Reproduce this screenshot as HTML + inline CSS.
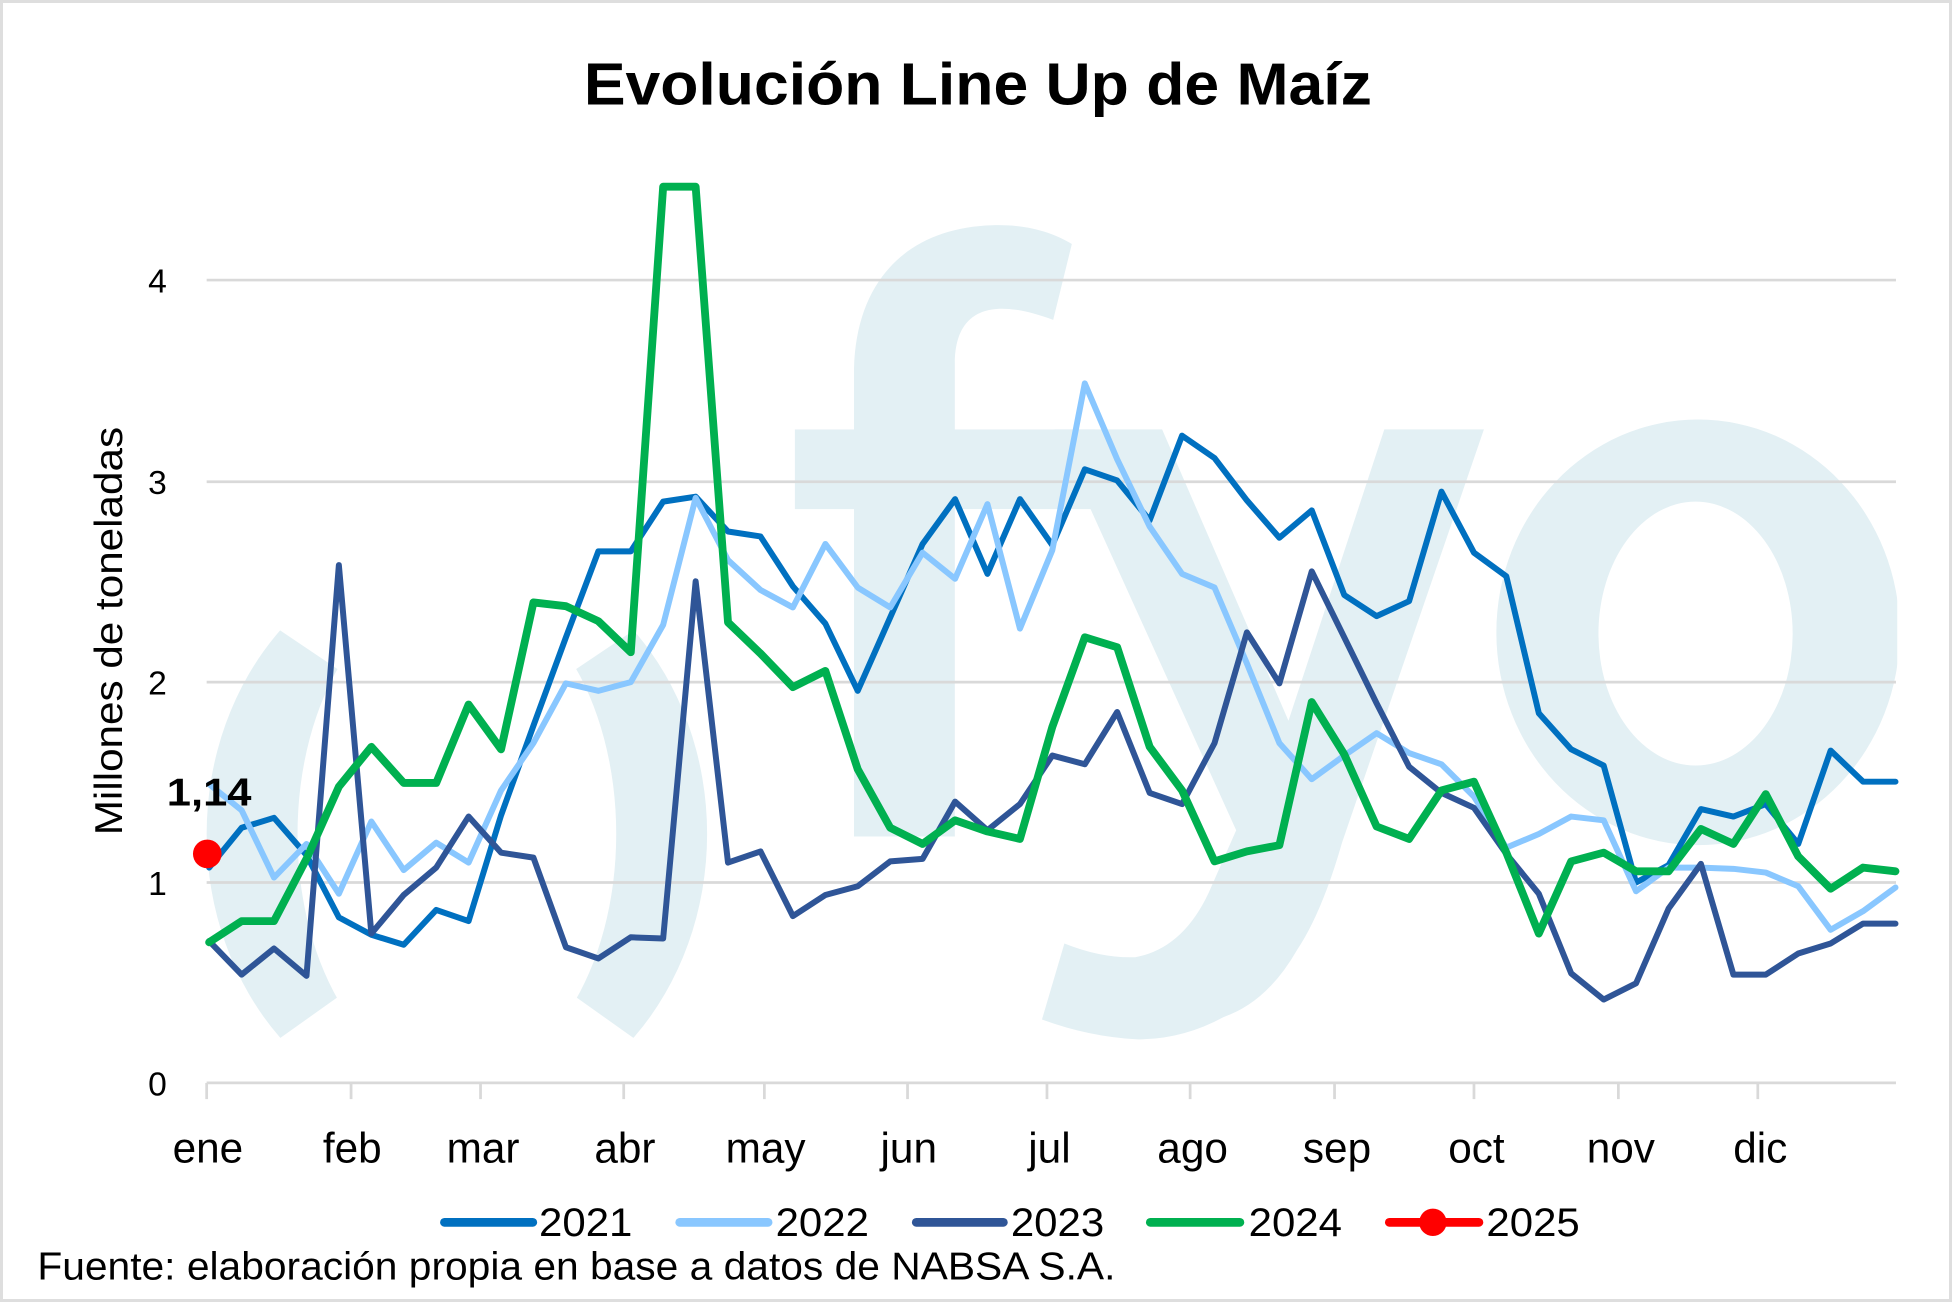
<!DOCTYPE html>
<html>
<head>
<meta charset="utf-8">
<style>
  html,body{margin:0;padding:0;background:#fff;}
  svg{display:block;}
  text{font-family:"Liberation Sans", Arial, sans-serif; fill:#000;}
</style>
</head>
<body>
<svg width="1952" height="1302" viewBox="0 0 1568 1046" preserveAspectRatio="none" xmlns="http://www.w3.org/2000/svg">
  <defs>
    <clipPath id="plotclip"><rect x="160" y="120" width="1364" height="760"/></clipPath>
    <clipPath id="bowtie"><polygon points="367,602 0,355 0,994 367,733 734,994 734,355"/></clipPath>
  </defs>
  <!-- background + border -->
  <rect x="1.2" y="1.2" width="1565.6" height="1043.6" fill="#ffffff" stroke="#dedede" stroke-width="2.4"/>

  <!-- watermark -->
  <g fill="#e3f0f4" clip-path="url(#plotclip)">
    <path clip-path="url(#bowtie)" fill-rule="evenodd" d="M166,670 A201,231 0 1,0 568,670 A201,231 0 1,0 166,670 Z M239,670 A128,200 0 1,1 495,670 A128,200 0 1,1 239,670 Z"/>
    <path d="M686,672 L686,296 C688,222 732,183 797,181 C825,180 846,187 861,196 L846,257 C830,251 816,248 805,248 C781,248 767,262 767,292 L767,672 Z"/>
    <rect x="638.5" y="345" width="241" height="64"/>
    <path d="M847,345 L933.5,345 L1035,579 L1112,345 L1192,345 L1078,677 Q1062,733 1042,763 Q1018,805 983,817 Q950,835 914,835 Q875,833 837,819 L855,758 Q885,770 912,769 Q950,762 971,717 L993,667 Z"/>
    <path fill-rule="evenodd" d="M1202,508 A162,171 0 1,0 1526,508 A162,171 0 1,0 1202,508 Z M1284,509 A78,106 0 1,1 1440,509 A78,106 0 1,1 1284,509 Z"/>
  </g>

  <!-- gridlines -->
  <g stroke="#d9d9d9" stroke-width="2.2">
    <line x1="166" y1="225" x2="1523" y2="225"/>
    <line x1="166" y1="387" x2="1523" y2="387"/>
    <line x1="166" y1="548" x2="1523" y2="548"/>
    <line x1="166" y1="709" x2="1523" y2="709"/>
    <line x1="166" y1="870" x2="1523" y2="870"/>
    <!-- ticks -->
    <line x1="166" y1="870" x2="166" y2="883"/>
    <line x1="282" y1="870" x2="282" y2="883"/>
    <line x1="386" y1="870" x2="386" y2="883"/>
    <line x1="501" y1="870" x2="501" y2="883"/>
    <line x1="614" y1="870" x2="614" y2="883"/>
    <line x1="729" y1="870" x2="729" y2="883"/>
    <line x1="841" y1="870" x2="841" y2="883"/>
    <line x1="956" y1="870" x2="956" y2="883"/>
    <line x1="1072" y1="870" x2="1072" y2="883"/>
    <line x1="1184" y1="870" x2="1184" y2="883"/>
    <line x1="1300" y1="870" x2="1300" y2="883"/>
    <line x1="1412" y1="870" x2="1412" y2="883"/>
  </g>

  <!-- y tick labels -->
  <g font-size="27" text-anchor="end">
    <text x="134" y="235">4</text>
    <text x="134" y="397">3</text>
    <text x="134" y="558">2</text>
    <text x="134" y="719">1</text>
    <text x="134" y="880">0</text>
  </g>

  <!-- y axis title -->
  <text transform="translate(98,671) rotate(-90)" font-size="31" textLength="328" lengthAdjust="spacingAndGlyphs">Millones de toneladas</text>

  <!-- x labels -->
  <g font-size="34" text-anchor="middle">
    <text x="167" y="934">ene</text>
    <text x="283" y="934">feb</text>
    <text x="388" y="934">mar</text>
    <text x="502" y="934">abr</text>
    <text x="615" y="934">may</text>
    <text x="730" y="934">jun</text>
    <text x="843" y="934">jul</text>
    <text x="958" y="934">ago</text>
    <text x="1074" y="934">sep</text>
    <text x="1186" y="934">oct</text>
    <text x="1302" y="934">nov</text>
    <text x="1414" y="934">dic</text>
  </g>

  <!-- series -->
  <g fill="none" stroke-linejoin="round" stroke-linecap="round">
    <polyline stroke="#0070c0" stroke-width="4.8" points="168,697 194.1,665 220.1,657 246.2,687 272.2,737 298.3,751 324.3,759 350.4,731 376.4,740 402.5,655 428.5,583 454.6,512 480.6,443 506.7,443 532.7,403 558.8,399 584.8,427 610.9,431 636.9,471 663,501 689,555 715.1,496 741.1,437 767.2,401 793.2,461 819.3,401 845.3,438 871.4,377 897.4,386 923.5,418 949.5,350 975.6,368 1001.6,402 1027.7,432 1053.7,410 1079.8,478 1105.8,495 1131.9,483 1157.9,395 1184,444 1210,463 1236.1,573 1262.1,602 1288.2,615 1314.2,709 1340.3,695 1366.3,650 1392.4,656 1418.4,646 1444.5,678 1470.5,603 1496.6,628 1522.6,628"/>
    <polyline stroke="#89c7ff" stroke-width="4.8" points="168,630 194.1,651 220.1,705 246.2,678 272.2,718 298.3,660 324.3,699 350.4,677 376.4,693 402.5,635 428.5,597 454.6,549 480.6,555 506.7,548 532.7,502 558.8,400 584.8,450 610.9,474 636.9,488 663,437 689,472 715.1,488 741.1,444 767.2,465 793.2,405 819.3,505 845.3,442 871.4,308 897.4,369 923.5,423 949.5,461 975.6,472 1001.6,533 1027.7,597 1053.7,626 1079.8,607 1105.8,589 1131.9,605 1157.9,614 1184,640 1210,681 1236.1,670 1262.1,656 1288.2,659 1314.2,716 1340.3,697 1366.3,697 1392.4,698 1418.4,701 1444.5,712 1470.5,747 1496.6,732 1522.6,713"/>
    <polyline stroke="#2f5597" stroke-width="4.8" points="168,756 194.1,783 220.1,762 246.2,784 272.2,454 298.3,750 324.3,719 350.4,697 376.4,656 402.5,685 428.5,689 454.6,761 480.6,770 506.7,753 532.7,754 558.8,467 584.8,693 610.9,684 636.9,736 663,719 689,712 715.1,692 741.1,690 767.2,644 793.2,667 819.3,646 845.3,607 871.4,614 897.4,572 923.5,637 949.5,646 975.6,597 1001.6,508 1027.7,549 1053.7,459 1079.8,512 1105.8,565 1131.9,616 1157.9,637 1184,649 1210,686 1236.1,718 1262.1,782 1288.2,803 1314.2,790 1340.3,730 1366.3,694 1392.4,783 1418.4,783 1444.5,766 1470.5,758 1496.6,742 1522.6,742"/>
    <polyline stroke="#00b050" stroke-width="6.3" points="168,757 194.1,740 220.1,740 246.2,690 272.2,632 298.3,600 324.3,629 350.4,629 376.4,566 402.5,602 428.5,484 454.6,487 480.6,499 506.7,524 532.7,150 558.8,150 584.8,500 610.9,525 636.9,552 663,539 689,618 715.1,665 741.1,678 767.2,659 793.2,668 819.3,674 845.3,584 871.4,512 897.4,520 923.5,600 949.5,635 975.6,692 1001.6,684 1027.7,679 1053.7,564 1079.8,606 1105.8,664 1131.9,674 1157.9,635 1184,628 1210,685 1236.1,750 1262.1,692 1288.2,685 1314.2,700 1340.3,700 1366.3,666 1392.4,678 1418.4,638 1444.5,688 1470.5,714 1496.6,697 1522.6,700"/>
  </g>

  <!-- 2025 point -->
  <circle cx="166.5" cy="686" r="11.5" fill="#ff0000"/>
  <text x="134" y="647" font-size="31" font-weight="bold" textLength="68" lengthAdjust="spacingAndGlyphs">1,14</text>

  <!-- title -->
  <text x="469" y="84" font-size="48" font-weight="bold" textLength="633" lengthAdjust="spacingAndGlyphs">Evolución Line Up de Maíz</text>

  <!-- legend -->
  <g stroke-width="7" stroke-linecap="round">
    <line x1="357" y1="982" x2="428" y2="982" stroke="#0070c0"/>
    <line x1="546" y1="982" x2="617" y2="982" stroke="#89c7ff"/>
    <line x1="736" y1="982" x2="806" y2="982" stroke="#2f5597"/>
    <line x1="924" y1="982" x2="996" y2="982" stroke="#00b050"/>
    <line x1="1116" y1="982" x2="1188" y2="982" stroke="#ff0000"/>
  </g>
  <circle cx="1151" cy="982" r="11" fill="#ff0000"/>
  <g font-size="32">
    <text x="433" y="993" textLength="75" lengthAdjust="spacingAndGlyphs">2021</text>
    <text x="623" y="993" textLength="75" lengthAdjust="spacingAndGlyphs">2022</text>
    <text x="812" y="993" textLength="75" lengthAdjust="spacingAndGlyphs">2023</text>
    <text x="1003" y="993" textLength="75" lengthAdjust="spacingAndGlyphs">2024</text>
    <text x="1194" y="993" textLength="75" lengthAdjust="spacingAndGlyphs">2025</text>
  </g>

  <!-- footer -->
  <text x="30" y="1028" font-size="31" textLength="866" lengthAdjust="spacingAndGlyphs">Fuente: elaboración propia en base a datos de NABSA S.A.</text>
</svg>
</body>
</html>
